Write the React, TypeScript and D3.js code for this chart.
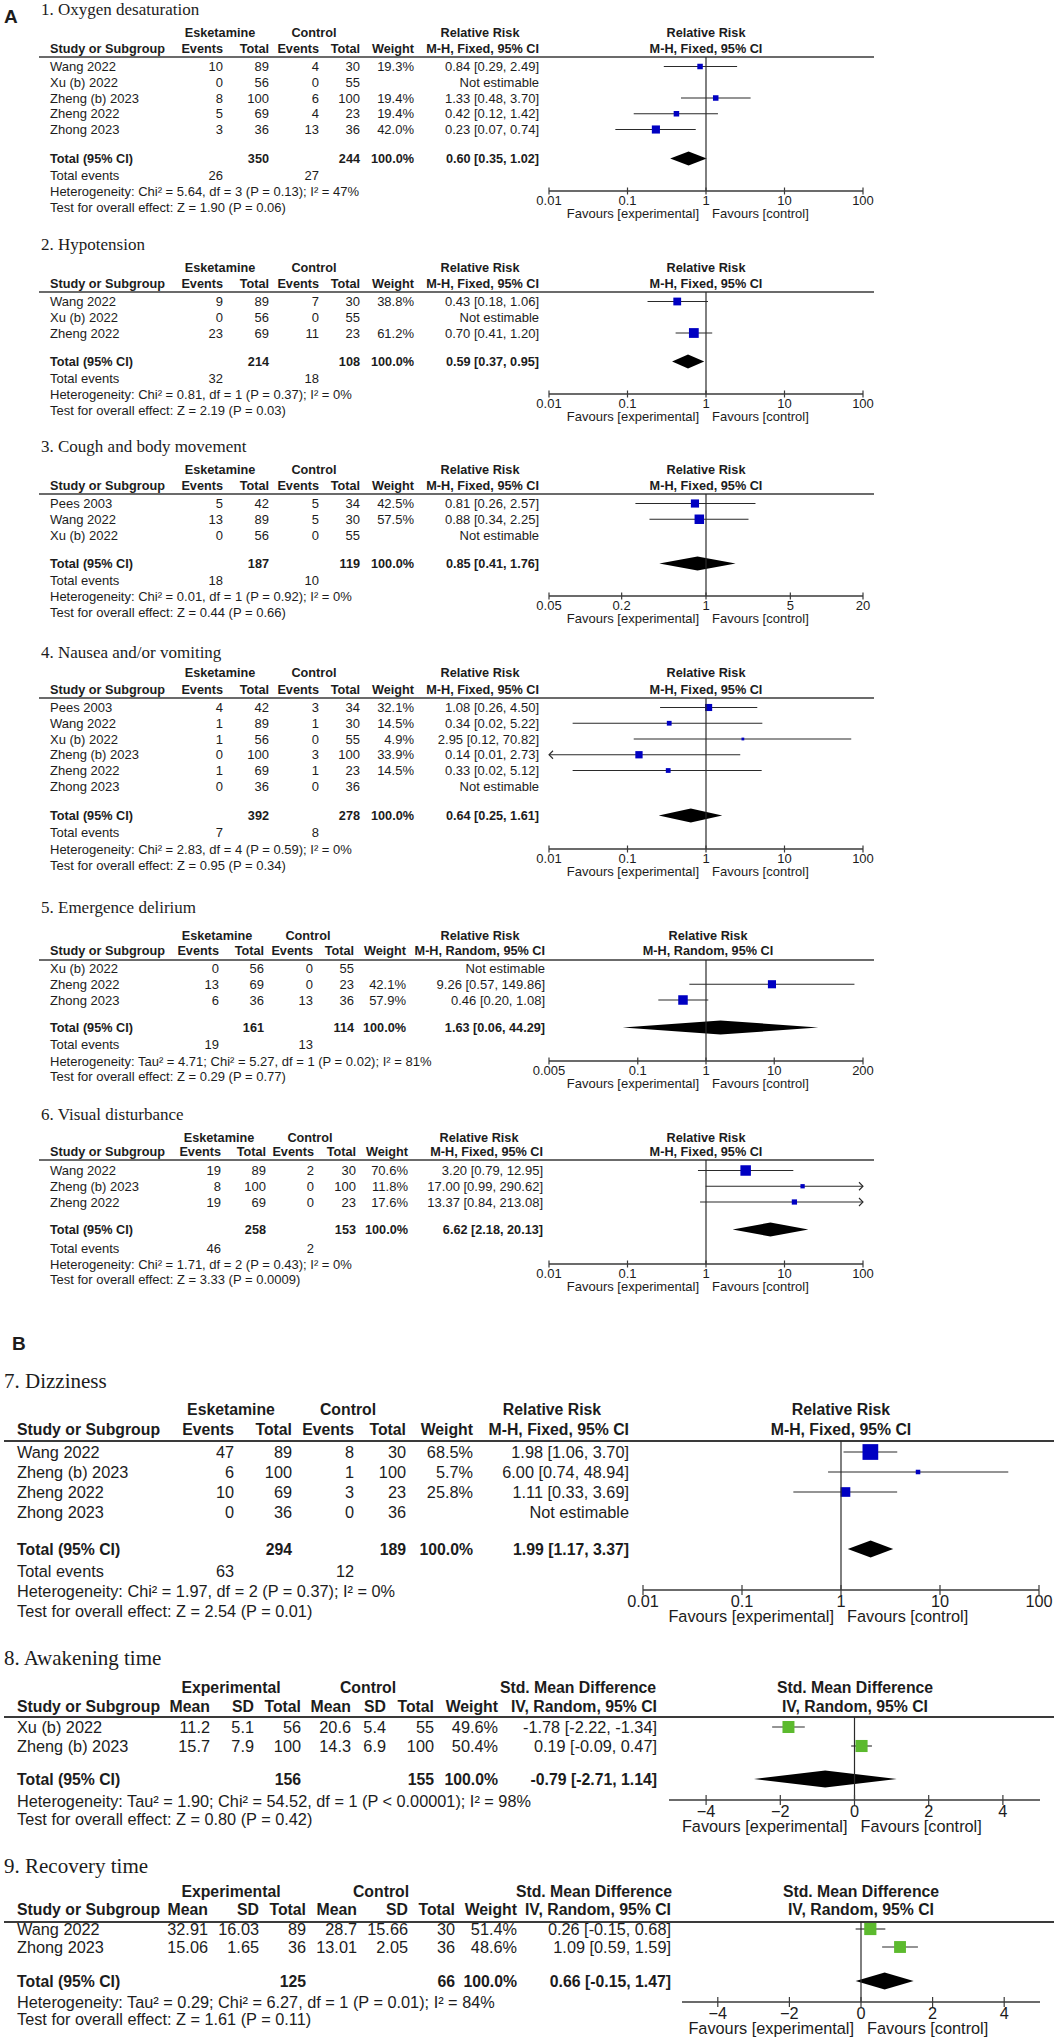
import React from "react";
import * as d3 from "d3";

// ---------- data ----------
// binary outcomes: study, esketamine events/total, control events/total, weight %, RR [lo, hi]
const oxygenRows = [
  { study: "Wang 2022", e1: 10, n1: 89, e2: 4, n2: 30, w: 19.3, est: 0.84, lo: 0.29, hi: 2.49 },
  { study: "Xu (b) 2022", e1: 0, n1: 56, e2: 0, n2: 55, w: null, est: null, lo: null, hi: null },
  { study: "Zheng (b) 2023", e1: 8, n1: 100, e2: 6, n2: 100, w: 19.4, est: 1.33, lo: 0.48, hi: 3.7 },
  { study: "Zheng 2022", e1: 5, n1: 69, e2: 4, n2: 23, w: 19.4, est: 0.42, lo: 0.12, hi: 1.42 },
  { study: "Zhong 2023", e1: 3, n1: 36, e2: 13, n2: 36, w: 42.0, est: 0.23, lo: 0.07, hi: 0.74 },
];
const oxygenTotal = { n1: 350, n2: 244, ev1: 26, ev2: 27, est: 0.6, lo: 0.35, hi: 1.02 };
const oxygenHet = "Heterogeneity: Chi² = 5.64, df = 3 (P = 0.13); I² = 47%";
const oxygenTest = "Test for overall effect: Z = 1.90 (P = 0.06)";

const hypoRows = [
  { study: "Wang 2022", e1: 9, n1: 89, e2: 7, n2: 30, w: 38.8, est: 0.43, lo: 0.18, hi: 1.06 },
  { study: "Xu (b) 2022", e1: 0, n1: 56, e2: 0, n2: 55, w: null, est: null, lo: null, hi: null },
  { study: "Zheng 2022", e1: 23, n1: 69, e2: 11, n2: 23, w: 61.2, est: 0.7, lo: 0.41, hi: 1.2 },
];
const hypoTotal = { n1: 214, n2: 108, ev1: 32, ev2: 18, est: 0.59, lo: 0.37, hi: 0.95 };
const hypoHet = "Heterogeneity: Chi² = 0.81, df = 1 (P = 0.37); I² = 0%";
const hypoTest = "Test for overall effect: Z = 2.19 (P = 0.03)";

const coughRows = [
  { study: "Pees 2003", e1: 5, n1: 42, e2: 5, n2: 34, w: 42.5, est: 0.81, lo: 0.26, hi: 2.57 },
  { study: "Wang 2022", e1: 13, n1: 89, e2: 5, n2: 30, w: 57.5, est: 0.88, lo: 0.34, hi: 2.25 },
  { study: "Xu (b) 2022", e1: 0, n1: 56, e2: 0, n2: 55, w: null, est: null, lo: null, hi: null },
];
const coughTotal = { n1: 187, n2: 119, ev1: 18, ev2: 10, est: 0.85, lo: 0.41, hi: 1.76 };
const coughHet = "Heterogeneity: Chi² = 0.01, df = 1 (P = 0.92); I² = 0%";
const coughTest = "Test for overall effect: Z = 0.44 (P = 0.66)";

const nauseaRows = [
  { study: "Pees 2003", e1: 4, n1: 42, e2: 3, n2: 34, w: 32.1, est: 1.08, lo: 0.26, hi: 4.5 },
  { study: "Wang 2022", e1: 1, n1: 89, e2: 1, n2: 30, w: 14.5, est: 0.34, lo: 0.02, hi: 5.22 },
  { study: "Xu (b) 2022", e1: 1, n1: 56, e2: 0, n2: 55, w: 4.9, est: 2.95, lo: 0.12, hi: 70.82 },
  { study: "Zheng (b) 2023", e1: 0, n1: 100, e2: 3, n2: 100, w: 33.9, est: 0.14, lo: 0.01, hi: 2.73 },
  { study: "Zheng 2022", e1: 1, n1: 69, e2: 1, n2: 23, w: 14.5, est: 0.33, lo: 0.02, hi: 5.12 },
  { study: "Zhong 2023", e1: 0, n1: 36, e2: 0, n2: 36, w: null, est: null, lo: null, hi: null },
];
const nauseaTotal = { n1: 392, n2: 278, ev1: 7, ev2: 8, est: 0.64, lo: 0.25, hi: 1.61 };
const nauseaHet = "Heterogeneity: Chi² = 2.83, df = 4 (P = 0.59); I² = 0%";
const nauseaTest = "Test for overall effect: Z = 0.95 (P = 0.34)";

const deliriumRows = [
  { study: "Xu (b) 2022", e1: 0, n1: 56, e2: 0, n2: 55, w: null, est: null, lo: null, hi: null },
  { study: "Zheng 2022", e1: 13, n1: 69, e2: 0, n2: 23, w: 42.1, est: 9.26, lo: 0.57, hi: 149.86 },
  { study: "Zhong 2023", e1: 6, n1: 36, e2: 13, n2: 36, w: 57.9, est: 0.46, lo: 0.2, hi: 1.08 },
];
const deliriumTotal = { n1: 161, n2: 114, ev1: 19, ev2: 13, est: 1.63, lo: 0.06, hi: 44.29 };
const deliriumHet = "Heterogeneity: Tau² = 4.71; Chi² = 5.27, df = 1 (P = 0.02); I² = 81%";
const deliriumTest = "Test for overall effect: Z = 0.29 (P = 0.77)";

const visualRows = [
  { study: "Wang 2022", e1: 19, n1: 89, e2: 2, n2: 30, w: 70.6, est: 3.2, lo: 0.79, hi: 12.95 },
  { study: "Zheng (b) 2023", e1: 8, n1: 100, e2: 0, n2: 100, w: 11.8, est: 17.0, lo: 0.99, hi: 290.62 },
  { study: "Zheng 2022", e1: 19, n1: 69, e2: 0, n2: 23, w: 17.6, est: 13.37, lo: 0.84, hi: 213.08 },
];
const visualTotal = { n1: 258, n2: 153, ev1: 46, ev2: 2, est: 6.62, lo: 2.18, hi: 20.13 };
const visualHet = "Heterogeneity: Chi² = 1.71, df = 2 (P = 0.43); I² = 0%";
const visualTest = "Test for overall effect: Z = 3.33 (P = 0.0009)";

const dizzyRows = [
  { study: "Wang 2022", e1: 47, n1: 89, e2: 8, n2: 30, w: 68.5, est: 1.98, lo: 1.06, hi: 3.7 },
  { study: "Zheng (b) 2023", e1: 6, n1: 100, e2: 1, n2: 100, w: 5.7, est: 6.0, lo: 0.74, hi: 48.94 },
  { study: "Zheng 2022", e1: 10, n1: 69, e2: 3, n2: 23, w: 25.8, est: 1.11, lo: 0.33, hi: 3.69 },
  { study: "Zhong 2023", e1: 0, n1: 36, e2: 0, n2: 36, w: null, est: null, lo: null, hi: null },
];
const dizzyTotal = { n1: 294, n2: 189, ev1: 63, ev2: 12, est: 1.99, lo: 1.17, hi: 3.37 };
const dizzyHet = "Heterogeneity: Chi² = 1.97, df = 2 (P = 0.37); I² = 0%";
const dizzyTest = "Test for overall effect: Z = 2.54 (P = 0.01)";

// continuous outcomes: mean, SD, total per arm, weight, SMD [lo, hi]
const awakeRows = [
  { study: "Xu (b) 2022", m1: 11.2, sd1: 5.1, n1: 56, m2: 20.6, sd2: 5.4, n2: 55, w: 49.6, est: -1.78, lo: -2.22, hi: -1.34 },
  { study: "Zheng (b) 2023", m1: 15.7, sd1: 7.9, n1: 100, m2: 14.3, sd2: 6.9, n2: 100, w: 50.4, est: 0.19, lo: -0.09, hi: 0.47 },
];
const awakeTotal = { n1: 156, n2: 155, est: -0.79, lo: -2.71, hi: 1.14 };
const awakeHet = "Heterogeneity: Tau² = 1.90; Chi² = 54.52, df = 1 (P < 0.00001); I² = 98%";
const awakeTest = "Test for overall effect: Z = 0.80 (P = 0.42)";

const recoveryRows = [
  { study: "Wang 2022", m1: 32.91, sd1: 16.03, n1: 89, m2: 28.7, sd2: 15.66, n2: 30, w: 51.4, est: 0.26, lo: -0.15, hi: 0.68 },
  { study: "Zhong 2023", m1: 15.06, sd1: 1.65, n1: 36, m2: 13.01, sd2: 2.05, n2: 36, w: 48.6, est: 1.09, lo: 0.59, hi: 1.59 },
];
const recoveryTotal = { n1: 125, n2: 66, est: 0.66, lo: -0.15, hi: 1.47 };
const recoveryHet = "Heterogeneity: Tau² = 0.29; Chi² = 6.27, df = 1 (P = 0.01); I² = 84%";
const recoveryTest = "Test for overall effect: Z = 1.61 (P = 0.11)";

// axis ticks
const rrTicks = [0.01, 0.1, 1, 10, 100];
const rrTickLabels = ["0.01", "0.1", "1", "10", "100"];
const coughTicks = [0.05, 0.2, 1, 5, 20];
const coughTickLabels = ["0.05", "0.2", "1", "5", "20"];
const deliriumTicks = [0.005, 0.1, 1, 10, 200];
const deliriumTickLabels = ["0.005", "0.1", "1", "10", "200"];
const smdTicks = [-4, -2, 0, 2, 4];
const smdTickLabels = ["−4", "−2", "0", "2", "4"];

// ---------- styling ----------
const SANS = "'Liberation Sans', Arial, Helvetica, sans-serif";
const SERIF = "'Liberation Serif', 'Times New Roman', serif";
const INK = "#1c1c1c";
const BLUE = "#0000c2";
const GREEN = "#5cba2e";

const f2 = (v) => v.toFixed(2);
const ciText = (r) => (r.est == null ? "Not estimable" : `${f2(r.est)} [${f2(r.lo)}, ${f2(r.hi)}]`);
const wText = (w) => (w == null ? "" : `${w.toFixed(1)}%`);

const A_BASE = {
  fs: 13, fsB: 12.7, titleFs: 17, titleX: 41, labelX: 50, pitch: 15.75,
  ax0: 549, ax1: 863, lx0: 39, lx1: 874, headX: 706, sizeMax: 12.5,
  markerDy: 4.5, diamondH: 7, tickDy: 14, favDy: 27, tickLen: 3.5, lineW: 1.5,
  cols: [223, 269, 319, 360, 414, 539], hdr1X: [220, 314, 480],
};
const B_BASE = {
  fs: 16.3, fsB: 15.8, titleFs: 21, titleX: 4, labelX: 17, lx0: 4, lx1: 1054,
  markerDy: 6, diamondH: 8.5, tickDy: 17, favDy: 32, tickLen: 5, lineW: 2,
};

function binCells(r) {
  return [String(r.e1), String(r.n1), String(r.e2), String(r.n2), wText(r.w), ciText(r)];
}
function binTotal(t) {
  return ["", String(t.n1), "", String(t.n2), "100.0%", `${f2(t.est)} [${f2(t.lo)}, ${f2(t.hi)}]`];
}
function contCells(r) {
  return [String(r.m1), String(r.sd1), String(r.n1), String(r.m2), String(r.sd2), String(r.n2), wText(r.w), ciText(r)];
}
function contTotal(t) {
  return ["", "", String(t.n1), "", "", String(t.n2), "100.0%", `${f2(t.est)} [${f2(t.lo)}, ${f2(t.hi)}]`];
}

const sections = [
  {
    title: "1. Oxygen desaturation", kind: "log", domain: [0.01, 100], ticks: rrTicks, tickLabels: rrTickLabels,
    groups: ["Esketamine", "Control", "Relative Risk"], heads: ["Events", "Total", "Events", "Total", "Weight", "M-H, Fixed, 95% CI"],
    ph1: "Relative Risk", ph2: "M-H, Fixed, 95% CI", rows: oxygenRows, cells: binCells, total: oxygenTotal, totalCells: binTotal,
    events: [oxygenTotal.ev1, oxygenTotal.ev2], het: oxygenHet, test: oxygenTest, color: BLUE,
    lay: { ...A_BASE, titleY: 15, h1: 37, h2: 53, line: 57, row: 71, totalY: 163, evY: 180, hetY: 196, testY: 212, axisY: 191 },
  },
  {
    title: "2. Hypotension", kind: "log", domain: [0.01, 100], ticks: rrTicks, tickLabels: rrTickLabels,
    groups: ["Esketamine", "Control", "Relative Risk"], heads: ["Events", "Total", "Events", "Total", "Weight", "M-H, Fixed, 95% CI"],
    ph1: "Relative Risk", ph2: "M-H, Fixed, 95% CI", rows: hypoRows, cells: binCells, total: hypoTotal, totalCells: binTotal,
    events: [hypoTotal.ev1, hypoTotal.ev2], het: hypoHet, test: hypoTest, color: BLUE,
    lay: { ...A_BASE, titleY: 250, h1: 272, h2: 288, line: 292, row: 306, totalY: 366, evY: 383, hetY: 399, testY: 415, axisY: 394 },
  },
  {
    title: "3. Cough and body movement", kind: "log", domain: [0.05, 20], ticks: coughTicks, tickLabels: coughTickLabels,
    groups: ["Esketamine", "Control", "Relative Risk"], heads: ["Events", "Total", "Events", "Total", "Weight", "M-H, Fixed, 95% CI"],
    ph1: "Relative Risk", ph2: "M-H, Fixed, 95% CI", rows: coughRows, cells: binCells, total: coughTotal, totalCells: binTotal,
    events: [coughTotal.ev1, coughTotal.ev2], het: coughHet, test: coughTest, color: BLUE,
    lay: { ...A_BASE, titleY: 452, h1: 474, h2: 490, line: 494, row: 508, totalY: 568, evY: 585, hetY: 601, testY: 617, axisY: 596 },
  },
  {
    title: "4. Nausea and/or vomiting", kind: "log", domain: [0.01, 100], ticks: rrTicks, tickLabels: rrTickLabels,
    groups: ["Esketamine", "Control", "Relative Risk"], heads: ["Events", "Total", "Events", "Total", "Weight", "M-H, Fixed, 95% CI"],
    ph1: "Relative Risk", ph2: "M-H, Fixed, 95% CI", rows: nauseaRows, cells: binCells, total: nauseaTotal, totalCells: binTotal,
    events: [nauseaTotal.ev1, nauseaTotal.ev2], het: nauseaHet, test: nauseaTest, color: BLUE,
    lay: { ...A_BASE, titleY: 658, h1: 677, h2: 694, line: 698, row: 712, totalY: 820, evY: 837, hetY: 854, testY: 870, axisY: 849 },
  },
  {
    title: "5. Emergence delirium", kind: "log", domain: [0.005, 200], ticks: deliriumTicks, tickLabels: deliriumTickLabels,
    groups: ["Esketamine", "Control", "Relative Risk"], heads: ["Events", "Total", "Events", "Total", "Weight", "M-H, Random, 95% CI"],
    ph1: "Relative Risk", ph2: "M-H, Random, 95% CI", rows: deliriumRows, cells: binCells, total: deliriumTotal, totalCells: binTotal,
    events: [deliriumTotal.ev1, deliriumTotal.ev2], het: deliriumHet, test: deliriumTest, color: BLUE,
    lay: {
      ...A_BASE, cols: [219, 264, 313, 354, 406, 545], hdr1X: [217, 308, 480], headX: 708,
      titleY: 913, h1: 940, h2: 955, line: 960, row: 973, totalY: 1032, evY: 1049, hetY: 1066, testY: 1081, axisY: 1061,
    },
  },
  {
    title: "6. Visual disturbance", kind: "log", domain: [0.01, 100], ticks: rrTicks, tickLabels: rrTickLabels,
    groups: ["Esketamine", "Control", "Relative Risk"], heads: ["Events", "Total", "Events", "Total", "Weight", "M-H, Fixed, 95% CI"],
    ph1: "Relative Risk", ph2: "M-H, Fixed, 95% CI", rows: visualRows, cells: binCells, total: visualTotal, totalCells: binTotal,
    events: [visualTotal.ev1, visualTotal.ev2], het: visualHet, test: visualTest, color: BLUE,
    lay: {
      ...A_BASE, cols: [221, 266, 314, 356, 408, 543], hdr1X: [219, 310, 479],
      titleY: 1120, h1: 1142, h2: 1156, line: 1160, row: 1175, totalY: 1234, evY: 1253, hetY: 1269, testY: 1284, axisY: 1264,
    },
  },
  {
    title: "7. Dizziness", kind: "log", domain: [0.01, 100], ticks: rrTicks, tickLabels: rrTickLabels,
    groups: ["Esketamine", "Control", "Relative Risk"], heads: ["Events", "Total", "Events", "Total", "Weight", "M-H, Fixed, 95% CI"],
    ph1: "Relative Risk", ph2: "M-H, Fixed, 95% CI", rows: dizzyRows, cells: binCells, total: dizzyTotal, totalCells: binTotal,
    events: [dizzyTotal.ev1, dizzyTotal.ev2], het: dizzyHet, test: dizzyTest, color: BLUE,
    lay: {
      ...B_BASE, pitch: 20, cols: [234, 292, 354, 406, 473, 629], hdr1X: [231, 348, 552],
      ax0: 643, ax1: 1039, headX: 841, sizeMax: 19,
      titleY: 1388, h1: 1415, h2: 1435, line: 1441, row: 1458, totalY: 1555, evY: 1577, hetY: 1597, testY: 1617, axisY: 1590,
    },
  },
  {
    title: "8. Awakening time", kind: "lin", domain: [-5, 5], ticks: smdTicks, tickLabels: smdTickLabels,
    groups: ["Experimental", "Control", "Std. Mean Difference"], heads: ["Mean", "SD", "Total", "Mean", "SD", "Total", "Weight", "IV, Random, 95% CI"],
    ph1: "Std. Mean Difference", ph2: "IV, Random, 95% CI", rows: awakeRows, cells: contCells, total: awakeTotal, totalCells: contTotal,
    events: null, het: awakeHet, test: awakeTest, color: GREEN,
    lay: {
      ...B_BASE, pitch: 19, cols: [210, 254, 301, 351, 386, 434, 498, 657], hdr1X: [231, 368, 578],
      ax0: 669, ax1: 1040, headX: 855, sizeMax: 17,
      titleY: 1665, h1: 1693, h2: 1712, line: 1717, row: 1733, totalY: 1785, evY: null, hetY: 1807, testY: 1825, axisY: 1800,
    },
  },
  {
    title: "9. Recovery time", kind: "lin", domain: [-5, 5], ticks: smdTicks, tickLabels: smdTickLabels,
    groups: ["Experimental", "Control", "Std. Mean Difference"], heads: ["Mean", "SD", "Total", "Mean", "SD", "Total", "Weight", "IV, Random, 95% CI"],
    ph1: "Std. Mean Difference", ph2: "IV, Random, 95% CI", rows: recoveryRows, cells: contCells, total: recoveryTotal, totalCells: contTotal,
    events: null, het: recoveryHet, test: recoveryTest, color: GREEN,
    lay: {
      ...B_BASE, pitch: 18, cols: [208, 259, 306, 357, 408, 455, 517, 671], hdr1X: [231, 381, 594],
      ax0: 682, ax1: 1040, headX: 861, sizeMax: 17,
      titleY: 1873, h1: 1897, h2: 1915, line: 1922, row: 1935, totalY: 1987, evY: null, hetY: 2008, testY: 2025, axisY: 2002,
    },
  },
];

function Forest({ s }) {
  const L = s.lay;
  const x =
    s.kind === "log"
      ? d3.scaleLog().domain(s.domain).range([L.ax0, L.ax1])
      : d3.scaleLinear().domain(s.domain).range([L.ax0, L.ax1]);
  const size = d3.scaleSqrt().domain([0, 100]).range([0, L.sizeMax]);
  const [dMin, dMax] = s.domain;
  const refX = x(s.kind === "log" ? 1 : 0);
  const txt = { fontFamily: SANS, fontSize: L.fs, fill: INK };
  const bold = { fontFamily: SANS, fontSize: L.fsB, fill: INK, fontWeight: "bold" };
  const arrow = 4;
  // total events row sits under the events columns
  const evCols = [L.cols[0], L.cols[2]];

  return (
    <g>
      <text x={L.titleX} y={L.titleY} fontFamily={SERIF} fontSize={L.titleFs} fill={INK}>
        {s.title}
      </text>
      {/* column group headings */}
      {s.groups.map((g, i) => (
        <text key={g} x={L.hdr1X[i]} y={L.h1} textAnchor="middle" {...bold}>{g}</text>
      ))}
      <text x={L.labelX} y={L.h2} {...bold}>Study or Subgroup</text>
      {s.heads.map((h, i) => (
        <text key={i} x={L.cols[i]} y={L.h2} textAnchor="end" {...bold}>{h}</text>
      ))}
      <text x={L.headX} y={L.h1} textAnchor="middle" {...bold}>{s.ph1}</text>
      <text x={L.headX} y={L.h2} textAnchor="middle" {...bold}>{s.ph2}</text>
      <line x1={L.lx0} x2={L.lx1} y1={L.line} y2={L.line} stroke="#3a3a3a" strokeWidth={L.lineW} />

      {/* study rows */}
      {s.rows.map((r, i) => {
        const y = L.row + i * L.pitch;
        const cy = y - L.markerDy;
        const cells = s.cells(r);
        let mark = null;
        if (r.est != null) {
          const lo = Math.max(r.lo, dMin);
          const hi = Math.min(r.hi, dMax);
          const side = size(r.w);
          const x0 = x(lo);
          const x1 = x(hi);
          mark = (
            <g>
              <line x1={x0} x2={x1} y1={cy} y2={cy} stroke="#2a2a2a" strokeWidth={1.1} />
              {r.lo <= dMin && (
                <polyline points={`${x0 + arrow},${cy - arrow} ${x0},${cy} ${x0 + arrow},${cy + arrow}`} fill="none" stroke="#2a2a2a" strokeWidth={1.1} />
              )}
              {r.hi >= dMax && (
                <polyline points={`${x1 - arrow},${cy - arrow} ${x1},${cy} ${x1 - arrow},${cy + arrow}`} fill="none" stroke="#2a2a2a" strokeWidth={1.1} />
              )}
              <rect x={x(r.est) - side / 2} y={cy - side / 2} width={side} height={side} fill={s.color} />
            </g>
          );
        }
        return (
          <g key={r.study}>
            <text x={L.labelX} y={y} {...txt}>{r.study}</text>
            {cells.map((c, j) => (
              <text key={j} x={L.cols[j]} y={y} textAnchor="end" {...txt}>{c}</text>
            ))}
            {mark}
          </g>
        );
      })}

      {/* pooled row */}
      <text x={L.labelX} y={L.totalY} {...bold}>Total (95% CI)</text>
      {s.totalCells(s.total).map((c, j) => (
        <text key={j} x={L.cols[j]} y={L.totalY} textAnchor="end" {...bold}>{c}</text>
      ))}
      <polygon
        points={[
          [x(s.total.lo), L.totalY - L.markerDy],
          [x(s.total.est), L.totalY - L.markerDy - L.diamondH],
          [x(s.total.hi), L.totalY - L.markerDy],
          [x(s.total.est), L.totalY - L.markerDy + L.diamondH],
        ].map((p) => p.join(",")).join(" ")}
        fill="#000"
      />

      {s.events && (
        <g>
          <text x={L.labelX} y={L.evY} {...txt}>Total events</text>
          {s.events.map((v, j) => (
            <text key={j} x={evCols[j]} y={L.evY} textAnchor="end" {...txt}>{v}</text>
          ))}
        </g>
      )}
      <text x={L.labelX} y={L.hetY} {...txt}>{s.het}</text>
      <text x={L.labelX} y={L.testY} {...txt}>{s.test}</text>

      {/* reference line and axis */}
      <line x1={refX} x2={refX} y1={L.line} y2={L.axisY} stroke="#2a2a2a" strokeWidth={1.2} />
      <line x1={L.ax0} x2={L.ax1} y1={L.axisY} y2={L.axisY} stroke="#3a3a3a" strokeWidth={1.5} />
      {s.ticks.map((t, i) => (
        <g key={t}>
          <line x1={x(t)} x2={x(t)} y1={L.axisY - L.tickLen} y2={L.axisY + L.tickLen} stroke="#3a3a3a" strokeWidth={1.2} />
          <text x={x(t)} y={L.axisY + L.tickDy} textAnchor="middle" {...txt}>{s.tickLabels[i]}</text>
        </g>
      ))}
      <text x={refX - 7} y={L.axisY + L.favDy} textAnchor="end" {...txt}>Favours [experimental]</text>
      <text x={refX + 6} y={L.axisY + L.favDy} {...txt}>Favours [control]</text>
    </g>
  );
}

export default function App() {
  return (
    <div style={{ position: "absolute", left: 0, top: 0, background: "#fff" }}>
      <svg width={1054} height={2041} viewBox="0 0 1054 2041" style={{ display: "block" }}>
        <rect width={1054} height={2041} fill="#fff" />
        <text x={4} y={23} fontFamily={SANS} fontWeight="bold" fontSize={19} fill={INK}>A</text>
        <text x={12} y={1350} fontFamily={SANS} fontWeight="bold" fontSize={19} fill={INK}>B</text>
        {sections.map((s) => (
          <Forest key={s.title} s={s} />
        ))}
      </svg>
    </div>
  );
}
